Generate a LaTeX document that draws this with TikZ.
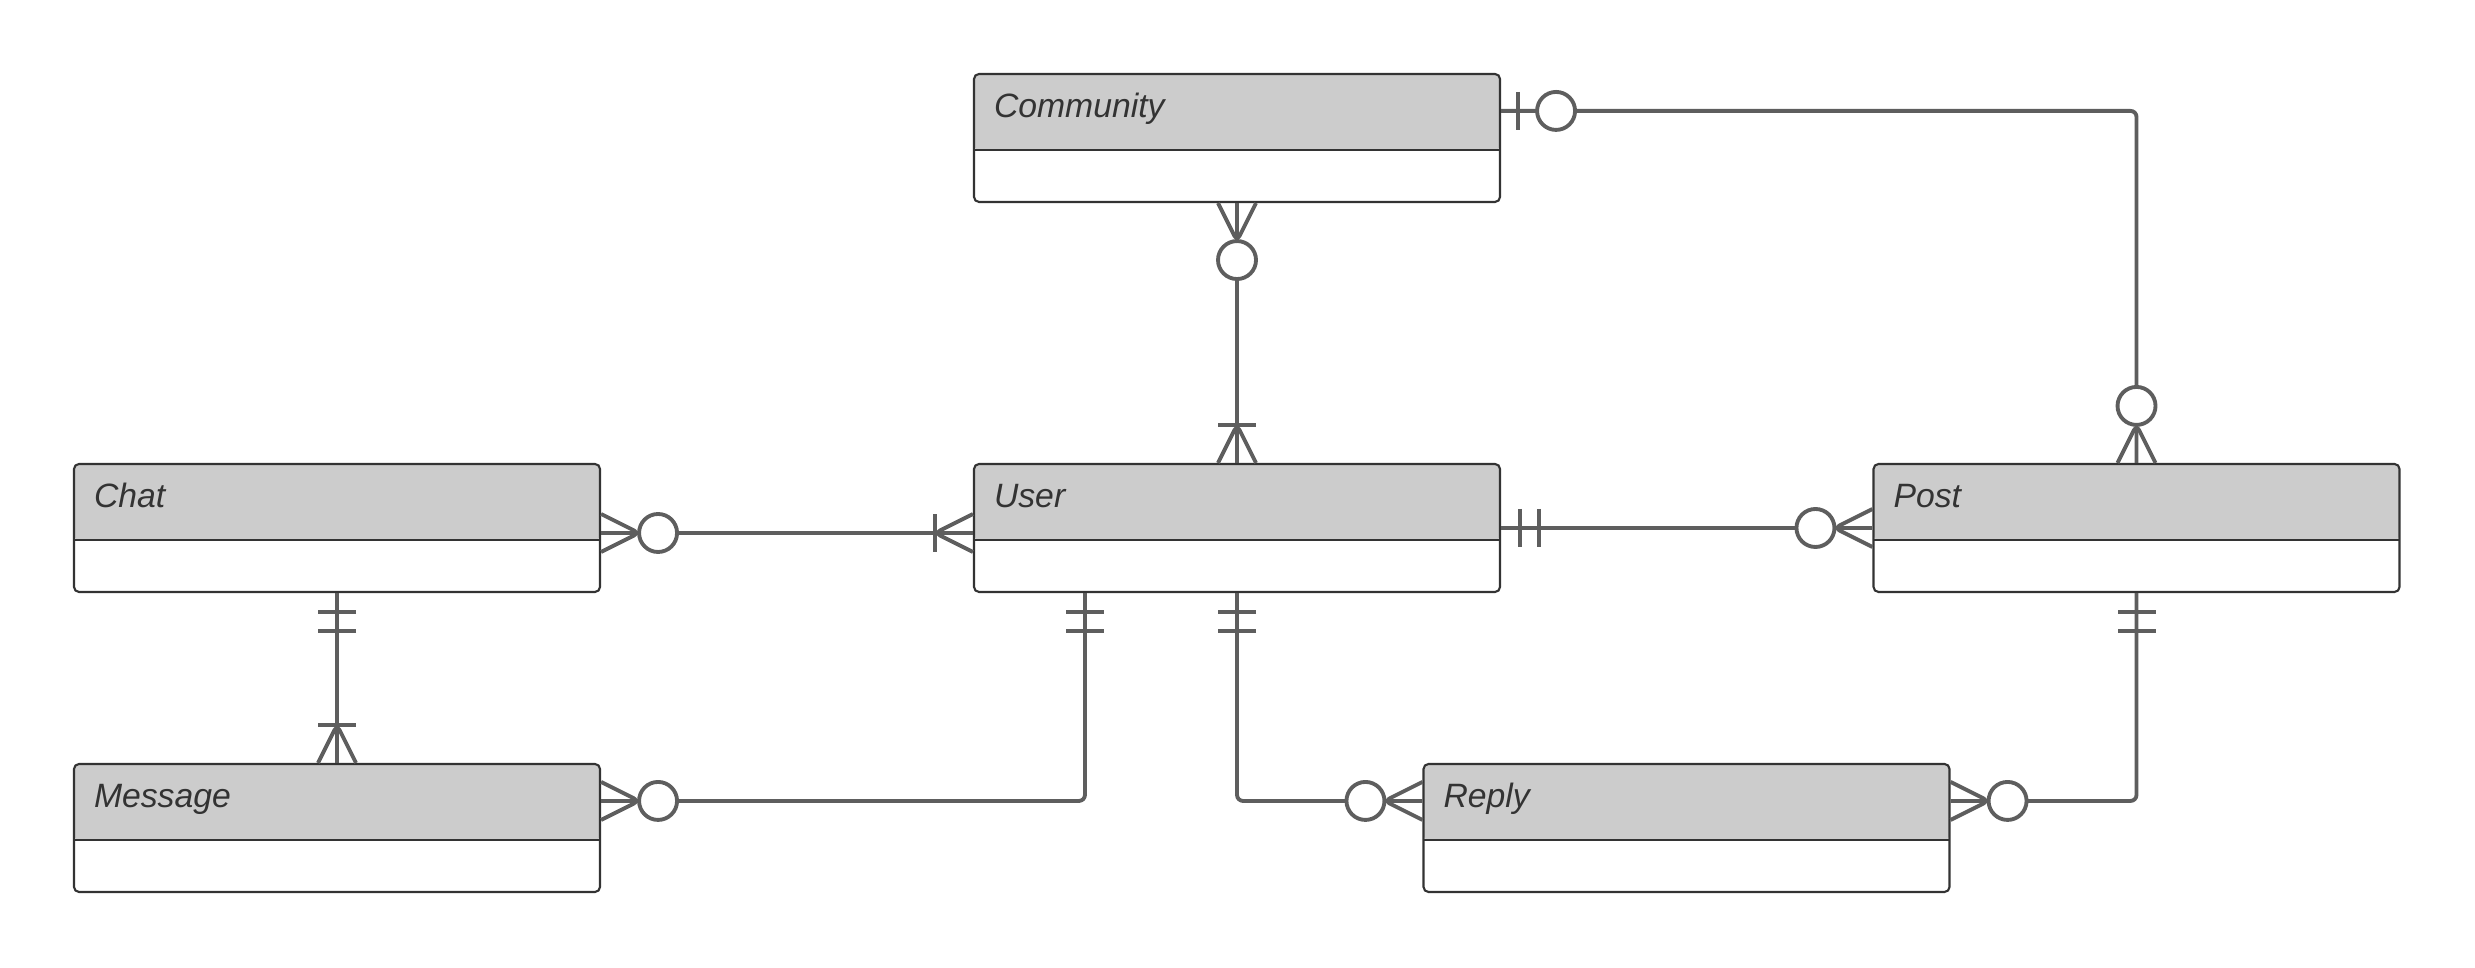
\documentclass[tikz,border=0pt]{standalone}
\usepackage{fontspec}
\setmainfont{Liberation Sans}
\usepackage{xcolor}
\usepackage{tikz}
\usetikzlibrary{positioning, calc}

\definecolor{headfill}{HTML}{CCCCCC}
\definecolor{boxline}{HTML}{333333}
\definecolor{linegray}{HTML}{5E5E5E}
\definecolor{titlegray}{HTML}{333333}

\begin{document}
\begin{tikzpicture}[
  entity/.style={
    rectangle,
    draw=boxline,
    line width=0.6pt,
    fill=white,
    minimum width=5.26cm,
    minimum height=1.28cm,
    rounded corners=0.05cm,
    inner sep=0pt,
    text width=4.86cm,
    align=left,
    text height=0.44cm,
    text depth=0.84cm,
    text=titlegray,
    font=\fontsize{9.6pt}{11pt}\selectfont\itshape,
    path picture={
      \fill[headfill] (path picture bounding box.north west) rectangle ([yshift=-0.76cm]path picture bounding box.north east);
      \draw[boxline, line width=0.7pt] ([yshift=-0.76cm]path picture bounding box.north west) -- ([yshift=-0.76cm]path picture bounding box.north east);
    }
  },
  connection/.style={
    line width=1.1pt,
    draw=linegray,
    line join=round,
    rounded corners=0.06cm
  },
  zeromany/.pic={
    \draw[connection] (0,0.19) -- (0.38,0) -- (0,-0.19);
    \draw[connection, fill=white] (0.57,0) circle (0.19);
  },
  onemany/.pic={
    \draw[connection] (0,0.19) -- (0.38,0) -- (0,-0.19);
    \draw[connection] (0.38,0.19) -- (0.38,-0.19);
  },
  onlyone/.pic={
    \draw[connection] (0.19,0.19) -- (0.19,-0.19);
    \draw[connection] (0.38,0.19) -- (0.38,-0.19);
  },
  zeroone/.pic={
    \draw[connection] (0.17,0.19) -- (0.17,-0.19);
    \draw[connection, fill=white] (0.55,0) circle (0.19);
  }
]
\useasboundingbox (0,0) rectangle (24.75,9.68);

% Entities
\node[entity] (community) at (12.37,8.30) {Community};
\node[entity] (chat) at (3.37,4.40) {Chat};
\node[entity] (user) at (12.37,4.40) {User};
\node[entity] (post) at (21.365,4.40) {Post};
\node[entity] (message) at (3.37,1.40) {Message};
\node[entity] (reply) at (16.865,1.40) {Reply};

% Connector end points
\coordinate (community-r) at ([yshift=-0.38cm]community.north east);
\coordinate (chat-r) at ([yshift=-0.05cm]chat.east);
\coordinate (user-l) at ([yshift=-0.05cm]user.west);
\coordinate (message-r) at ([yshift=-0.38cm]message.north east);
\coordinate (user-b) at ([xshift=1.12cm]user.south west);
\coordinate (reply-l) at ([yshift=-0.38cm]reply.north west);
\coordinate (reply-r) at ([yshift=-0.38cm]reply.north east);

% Relationships
\draw[connection] (community-r) -| (post.north);
\draw[connection] (community.south) -- (user.north);
\draw[connection] (chat-r) -- (user-l);
\draw[connection] (user.east) -- (post.west);
\draw[connection] (chat.south) -- (message.north);
\draw[connection] (message-r) -| (user-b);
\draw[connection] (user.south) |- (reply-l);
\draw[connection] (reply-r) -| (post.south);

% Cardinality marks
\pic at (community-r) {zeroone};
\pic[rotate=90] at (post.north) {zeromany};
\pic[rotate=-90] at (community.south) {zeromany};
\pic[rotate=90] at (user.north) {onemany};
\pic at (chat-r) {zeromany};
\pic[rotate=180] at (user-l) {onemany};
\pic at (user.east) {onlyone};
\pic[rotate=180] at (post.west) {zeromany};
\pic[rotate=-90] at (chat.south) {onlyone};
\pic[rotate=90] at (message.north) {onemany};
\pic at (message-r) {zeromany};
\pic[rotate=-90] at (user-b) {onlyone};
\pic[rotate=-90] at (user.south) {onlyone};
\pic[rotate=180] at (reply-l) {zeromany};
\pic at (reply-r) {zeromany};
\pic[rotate=-90] at (post.south) {onlyone};
\end{tikzpicture}
\end{document}
